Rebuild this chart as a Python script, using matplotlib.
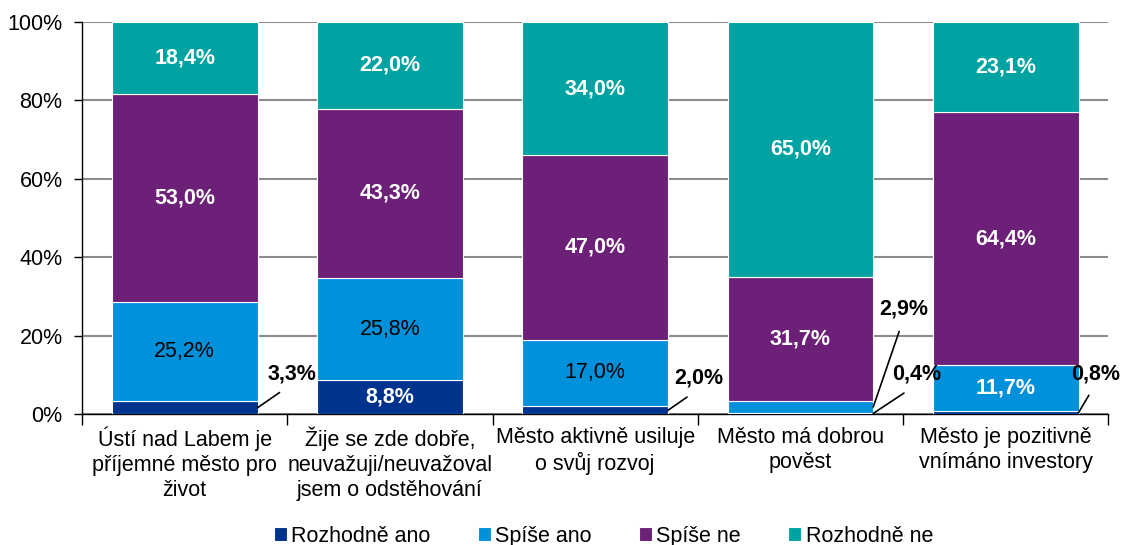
import matplotlib
matplotlib.use("Agg")
import matplotlib.pyplot as plt
import numpy as np

plt.rcParams["font.family"] = ["Liberation Sans", "DejaVu Sans"]

categories = [
    "Ústí nad Labem je\npříjemné město pro\nživot",
    "Žije se zde dobře,\nneuvažuji/neuvažoval\njsem o odstěhování",
    "Město aktivně usiluje\no svůj rozvoj",
    "Město má dobrou\npověst",
    "Město je pozitivně\nvnímáno investory",
]
series = ["Rozhodně ano", "Spíše ano", "Spíše ne", "Rozhodně ne"]
rozhodne_ano = [3.3, 8.8, 2.0, 0.4, 0.8]
spise_ano = [25.2, 25.8, 17.0, 2.9, 11.7]
spise_ne = [53.0, 43.3, 47.0, 31.7, 64.4]
rozhodne_ne = [18.4, 22.0, 34.0, 65.0, 23.1]
colors = ["#00338D", "#0091DA", "#6D2077", "#00A3A1"]

# small segments get an outside label with a leader line (offset in pixels)
outside = {
    (0, 0): (34, 34),
    (2, 0): (31, 32),
    (3, 0): (43, 39),
    (3, 1): (30, 98),
    (4, 0): (17, 39),
}
black_plain = {(0, 1), (1, 1), (2, 1)}

values = np.array([rozhodne_ano, spise_ano, spise_ne, rozhodne_ne])
x = np.arange(len(categories))
w = 0.71

fig, ax = plt.subplots(figsize=(11.24, 5.45), dpi=100)
fig.subplots_adjust(left=0.073, right=0.986, bottom=0.240, top=0.960)

bottom = np.zeros(len(categories))
for s, (name, vals, c) in enumerate(zip(series, values, colors)):
    ax.bar(x, vals, w, bottom=bottom, color=c, edgecolor="white", lw=0.8,
           label=name, zorder=3)
    for i, v in enumerate(vals):
        txt = f"{v:.1f}%".replace(".", ",")
        mid = bottom[i] + v / 2
        if (i, s) in outside:
            ax.annotate(
                txt, xy=(x[i] + w / 2, mid), xytext=outside[(i, s)],
                textcoords="offset pixels", ha="center", va="center",
                fontsize=15.5, fontweight="bold", color="black", zorder=5,
                arrowprops=dict(arrowstyle="-", color="black", lw=1.2,
                                shrinkA=7, shrinkB=0, relpos=(0.5, 0)),
                annotation_clip=False,
            )
        elif (i, s) in black_plain:
            ax.text(x[i], mid, txt, ha="center", va="center", fontsize=15.5,
                    color="black", zorder=4)
        else:
            ax.text(x[i], mid, txt, ha="center", va="center", fontsize=15.5,
                    fontweight="bold", color="white", zorder=4)
    bottom += vals

ax.set_ylim(0, 100)
ax.set_xlim(-0.5, len(categories) - 0.5)
ax.set_yticks(np.arange(0, 101, 20))
ax.set_yticklabels([f"{t}%" for t in range(0, 101, 20)], fontsize=15.5)
ax.yaxis.grid(True, color="#8c8c8c", lw=1.5, zorder=0)
ax.set_axisbelow(True)

ax.set_xticks(x)
ax.set_xticklabels(categories, fontsize=15.5, linespacing=1.25)
ax.set_xticks(np.arange(-0.5, len(categories)), minor=True)
ax.tick_params(axis="x", which="major", length=0, pad=9)
ax.tick_params(axis="x", which="minor", length=8, width=1, direction="out")
ax.tick_params(axis="y", length=6, width=1, direction="out", pad=8)

for sp in ("top", "right"):
    ax.spines[sp].set_visible(False)
for sp in ("left", "bottom"):
    ax.spines[sp].set_color("black")
    ax.spines[sp].set_linewidth(1)

fig.legend(loc="center", bbox_to_anchor=(0.537, 0.016), ncol=4, frameon=False,
           fontsize=15.5, handlelength=0.6, handleheight=0.6,
           handletextpad=0.2, columnspacing=2.2)

fig.savefig("out.png", dpi=100)
